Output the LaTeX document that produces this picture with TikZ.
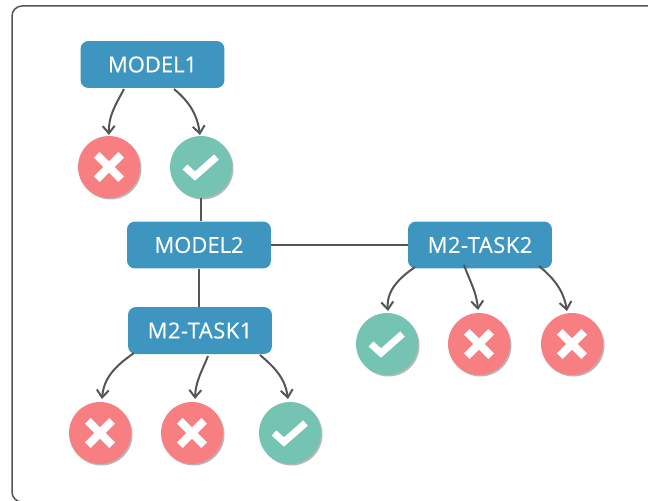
\documentclass[tikz,border=0pt]{standalone}
\usepackage{fontspec}
\setmainfont{Open Sans}
\newfontfamily\boxfont[FakeBold=0.35]{Open Sans}
\newfontfamily\taskfont[FakeBold=0.35,LetterSpace=2.3]{Open Sans}
\usetikzlibrary{arrows.meta,shadows}
\definecolor{boxblue}{HTML}{3E95BF}
\definecolor{badred}{HTML}{F77F82}
\definecolor{goodgreen}{HTML}{74C3B3}
\definecolor{linegray}{HTML}{555555}
\tikzset{
    model/.style={draw=none,fill=boxblue,rounded corners=0.16cm,minimum width=2.88cm,minimum height=0.94cm,inner sep=0pt,text=white,font=\boxfont\fontsize{12.5}{14}\selectfont},
    task/.style={model,font=\taskfont\fontsize{12.5}{14}\selectfont},
    result/.style={circle,fill=#1,minimum size=1.24cm,inner sep=0pt,drop shadow={shadow xshift=0.03cm,shadow yshift=-0.03cm,opacity=0.4,fill=black!70}},
    bad/.style={result=badred},
    good/.style={result=goodgreen},
    link/.style={draw=linegray,line width=0.04cm},
    curved/.style={link,-{Straight Barb[length=0.15cm,width=0.24cm,line width=0.04cm]}},
    mark line/.style={draw=white,line width=0.16cm},
    tick line/.style={draw=white,line width=0.14cm},
}
\newcommand{\crossmark}[1]{\draw[mark line] ([shift={(-0.244cm,0.244cm)}]#1.center)--([shift={(0.244cm,-0.244cm)}]#1.center) ([shift={(-0.244cm,-0.244cm)}]#1.center)--([shift={(0.244cm,0.244cm)}]#1.center);}
\newcommand{\tickmark}[1]{\draw[tick line] ([shift={(-0.32cm,0cm)}]#1.center)--([shift={(-0.12cm,-0.18cm)}]#1.center)--([shift={(0.31cm,0.2cm)}]#1.center);}
\begin{document}
\begin{tikzpicture}[x=0.02cm,y=-0.02cm]
    \useasboundingbox (0,0) rectangle (648,500);
    \draw[line width=0.03cm,draw=linegray,rounded corners=0.2cm] (12,6) rectangle (660,502);
    % boxes
    \node[model] (model1) at (152.5,64.5) {MODEL1};
    \node[model] (model2) at (199,245) {MODEL2};
    \node[task] (task1) at (200,330.5) {M2-TASK1};
    \node[task] (task2) at (480,245) {M2-TASK2};
    % results
    \node[bad] (m1a) at (109,167) {};
    \node[good] (m1b) at (201,167) {};
    \node[good] (t2a) at (387,344) {};
    \node[bad] (t2b) at (479,344) {};
    \node[bad] (t2c) at (572,344) {};
    \node[bad] (t1a) at (100,433) {};
    \node[bad] (t1b) at (192,433) {};
    \node[good] (t1c) at (290,433) {};
    \crossmark{m1a}
    \tickmark{m1b}
    \tickmark{t2a}
    \crossmark{t2b}
    \crossmark{t2c}
    \crossmark{t1a}
    \crossmark{t1b}
    \tickmark{t1c}
    % straight links
    \draw[link] (m1b) -- (model2.north -| m1b);
    \draw[link] (model2.south) -- (task1.north -| model2.south);
    \draw[link] (model2) -- (task2);
    % curved links
    \coordinate (m1o1) at (124,89);
    \coordinate (m1o2) at (174,89);
    \coordinate (m1i1) at (109,135);
    \coordinate (m1i2) at (200,135);
    \draw[curved] (m1o1) to[out=-118,in=92] (m1i1);
    \draw[curved] (m1o2) to[out=-40,in=98] (m1i2);
    \coordinate (t2o1) at (415,267);
    \coordinate (t2o2) at (464,265);
    \coordinate (t2o3) at (539,266);
    \coordinate (t2i1) at (388,311);
    \coordinate (t2i2) at (478,310);
    \coordinate (t2i3) at (567,311);
    \draw[curved] (t2o1) to[out=-145,in=95] (t2i1);
    \draw[curved] (t2o2) to[out=-70,in=95] (t2i2);
    \draw[curved] (t2o3) to[out=-40,in=100] (t2i3);
    \coordinate (t1o1) at (134,353);
    \coordinate (t1o2) at (208,356);
    \coordinate (t1o3) at (260,355);
    \coordinate (t1i1) at (102,399);
    \coordinate (t1i2) at (195,399);
    \coordinate (t1i3) at (288,399);
    \draw[curved] (t1o1) to[out=-145,in=85] (t1i1);
    \draw[curved] (t1o2) to[out=-112,in=88] (t1i2);
    \draw[curved] (t1o3) to[out=-40,in=98] (t1i3);
\end{tikzpicture}
\end{document}
